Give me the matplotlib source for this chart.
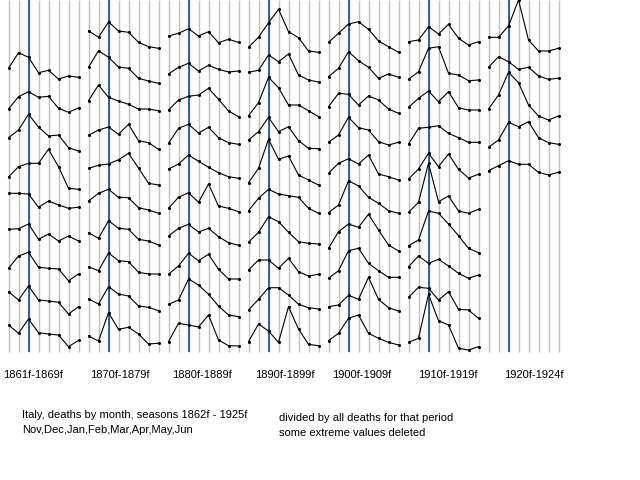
import matplotlib
matplotlib.use("Agg")
import matplotlib.pyplot as plt

months = ["Nov", "Dec", "Jan", "Feb", "Mar", "Apr", "May", "Jun"]
period_labels = ["1861f-1869f", "1870f-1879f", "1880f-1889f", "1890f-1899f",
                 "1900f-1909f", "1910f-1919f", "1920f-1924f"]
# first year-slot (year mod 10) of each period
first_slot = [1, 0, 0, 0, 0, 0, 0]

# relative monthly deaths (scaled), one row per season, Nov..Jun
p1860s = [
    [24.7, 40.3, 35.7, 20.3, 22.7, 14.0, 17.0, 15.7],
    [17.0, 29.3, 34.3, 28.7, 29.7, 17.7, 13.7, 18.0],
    [21.3, 29.0, 44.7, 32.0, 23.0, 24.0, 11.3, 8.0],
    [15.0, 25.3, 28.7, 28.7, 42.7, 25.3, 3.7, 2.7],
    [31.7, 31.7, 31.0, 17.7, 24.0, 20.0, 16.7, 17.7],
    [28.7, 29.3, 34.0, 18.7, 24.0, 17.0, 22.0, 17.0],
    [22.7, 35.0, 38.7, 23.7, 22.7, 22.0, 10.3, 17.0],
    [32.3, 24.0, 38.0, 24.0, 23.0, 21.7, 10.0, 17.3],
    [32.0, 23.7, 38.0, 24.3, 23.0, 22.0, 10.3, 16.7],
]
p1870s = [
    [29.3, 22.7, 38.0, 29.0, 27.7, 17.7, 13.3, 11.7],
    [25.7, 42.3, 35.7, 26.0, 24.7, 14.7, 12.0, 9.7],
    [25.3, 41.0, 28.7, 25.0, 21.7, 17.0, 17.0, 15.3],
    [23.7, 29.0, 32.0, 24.7, 34.7, 18.3, 16.3, 9.7],
    [23.7, 26.7, 28.0, 32.3, 38.7, 24.0, 8.7, 7.0],
    [24.0, 31.7, 35.7, 27.7, 27.3, 17.3, 15.0, 11.7],
    [25.3, 19.7, 37.3, 29.7, 28.7, 18.7, 17.0, 13.0],
    [24.3, 20.3, 38.0, 30.3, 29.3, 18.7, 17.0, 17.0],
    [25.0, 20.0, 37.3, 30.0, 28.0, 18.0, 16.7, 13.3],
    [21.0, 16.0, 44.3, 27.7, 29.7, 23.0, 13.0, 13.7],
]
p1880s = [
    [24.0, 26.7, 31.3, 24.0, 28.3, 17.3, 20.7, 17.7],
    [19.0, 25.7, 29.7, 22.0, 27.7, 23.7, 21.0, 22.0],
    [16.0, 26.0, 29.7, 31.0, 37.7, 26.7, 15.0, 9.3],
    [15.7, 30.7, 34.7, 26.0, 31.7, 21.3, 16.3, 14.7],
    [23.0, 28.0, 37.0, 30.7, 24.7, 19.3, 15.3, 13.7],
    [16.7, 27.7, 32.3, 22.7, 41.0, 19.0, 16.7, 13.3],
    [22.0, 29.7, 33.7, 26.0, 29.7, 21.3, 15.3, 12.7],
    [16.7, 25.0, 37.7, 30.3, 36.7, 21.7, 12.0, 12.0],
    [19.7, 24.0, 45.0, 39.0, 29.7, 18.0, 9.0, 7.3],
    [15.3, 33.7, 32.0, 30.0, 42.0, 17.0, 11.3, 11.0],
]
p1890s = [
    [12.7, 22.7, 37.3, 50.7, 28.3, 22.3, 9.0, 7.7],
    [20.7, 22.7, 38.0, 31.3, 39.0, 18.0, 13.0, 11.0],
    [10.3, 23.3, 48.7, 38.3, 21.0, 21.0, 15.3, 9.3],
    [19.0, 27.3, 41.7, 27.3, 32.3, 18.3, 10.7, 10.3],
    [9.3, 23.7, 52.7, 32.7, 36.0, 17.0, 12.0, 7.0],
    [14.3, 26.7, 35.7, 31.0, 29.3, 27.7, 16.7, 11.7],
    [15.7, 25.7, 41.3, 36.3, 25.7, 16.3, 14.7, 14.0],
    [21.0, 31.0, 31.0, 22.7, 32.7, 19.3, 15.0, 16.7],
    [14.0, 24.7, 36.3, 36.3, 29.0, 19.7, 16.3, 15.0],
    [15.3, 33.0, 26.0, 14.7, 50.3, 28.0, 12.7, 11.3],
]
p1900s = [
    [17.7, 26.7, 36.0, 38.3, 30.7, 19.0, 13.3, 7.7],
    [16.3, 24.7, 41.3, 32.3, 25.7, 14.7, 19.0, 15.7],
    [19.3, 32.7, 31.7, 21.0, 30.0, 26.0, 17.0, 12.7],
    [16.7, 24.0, 41.7, 31.3, 29.0, 17.3, 14.0, 16.7],
    [18.7, 28.7, 33.3, 28.0, 37.0, 18.0, 15.3, 12.0],
    [12.3, 20.0, 44.3, 39.0, 27.7, 21.7, 14.3, 11.7],
    [9.7, 26.3, 34.0, 30.7, 43.7, 28.0, 13.0, 7.0],
    [12.7, 20.3, 40.3, 42.7, 27.7, 20.3, 13.7, 13.7],
    [17.3, 19.0, 28.7, 24.7, 46.7, 24.7, 16.3, 13.0],
    [16.3, 23.7, 38.7, 42.0, 23.7, 18.7, 14.7, 12.0],
]
p1910s = [
    [18.3, 20.0, 33.3, 26.0, 35.7, 21.7, 15.0, 18.3],
    [13.7, 21.3, 44.7, 46.3, 19.7, 18.0, 12.3, 13.0],
    [18.7, 27.7, 35.0, 24.3, 34.3, 18.3, 16.0, 16.0],
    [15.0, 30.7, 31.7, 33.3, 25.7, 21.3, 16.7, 16.7],
    [13.0, 23.0, 38.7, 25.3, 38.0, 22.7, 14.0, 17.7],
    [12.7, 22.7, 61.7, 23.3, 29.0, 14.0, 11.7, 15.7],
    [12.3, 18.0, 47.0, 44.7, 34.0, 22.3, 9.7, 5.3],
    [24.3, 35.0, 27.7, 31.7, 25.0, 17.7, 12.7, 16.0],
    [26.7, 36.7, 35.7, 24.0, 32.3, 14.7, 14.0, 5.7],
    [14.7, 18.7, 62.7, 36.3, 32.0, 8.7, 7.0, 10.3],
]
p1920s = [
    [22.7, 22.7, 34.0, 60.0, 20.0, 9.0, 9.0, 11.7],
    [25.7, 36.3, 31.3, 23.7, 25.7, 17.0, 13.7, 14.7],
    [17.0, 31.0, 53.7, 43.3, 21.0, 10.0, 6.0, 10.0],
    [11.7, 19.0, 36.7, 32.3, 37.3, 21.3, 16.3, 14.7],
    [21.3, 26.3, 31.3, 27.7, 27.7, 19.7, 17.0, 19.7],
]
periods = [p1860s, p1870s, p1880s, p1890s, p1900s, p1910s, p1920s]

title_left = ["Italy, deaths by month, seasons 1862f - 1925f",
              "Nov,Dec,Jan,Feb,Mar,Apr,May,Jun"]
title_right = ["divided by all deaths for that period",
               "some extreme values deleted"]

# layout (pixels)
W, H = 640, 480
row_gap = 33.0
top_base = 60.0

fig = plt.figure(figsize=(W / 100, H / 100), dpi=100)
fig.patch.set_facecolor("white")
ax = fig.add_axes([0, 0, 1, 1])
ax.set_xlim(-0.85, W / 10 - 0.85)
ax.set_ylim(-H, 0)
ax.axis("off")

nm = len(months)
n_pos = nm * len(periods)
grid_x = list(range(n_pos))
ax.vlines(grid_x, -352, 0, colors="#c0c0c0", linewidth=1.0, zorder=1)
jan_x = [b * nm + months.index("Jan") for b in range(len(periods))]
ax.vlines(jan_x, -352, 0, colors="#0a4f9a", linewidth=1.2, zorder=2)

for b, rows in enumerate(periods):
    xs = [b * nm + m for m in range(nm)]
    for r, vals in enumerate(rows):
        slot = first_slot[b] + r
        ys = [v - top_base - row_gap * slot for v in vals]
        ax.plot(xs, ys, color="black", linewidth=0.8, marker="o",
                markersize=2.2, markerfacecolor="black",
                markeredgewidth=0, zorder=3)

font = dict(family="Liberation Sans", fontsize=8, color="black")
label_x = [3, 90, 172, 255, 332, 418, 504]
for lx, lab in zip(label_x, period_labels):
    fig.text(lx / W, 1 - 375 / H, lab, ha="left", va="center", **font)

fig.text(22 / W, 1 - 415 / H, title_left[0], ha="left", va="center", **font)
fig.text(22 / W, 1 - 430 / H, title_left[1], ha="left", va="center", **font)
fig.text(279 / W, 1 - 418 / H, title_right[0], ha="left", va="center", **font)
fig.text(279 / W, 1 - 433 / H, title_right[1], ha="left", va="center", **font)

fig.savefig("out.png", dpi=100, facecolor="white")
